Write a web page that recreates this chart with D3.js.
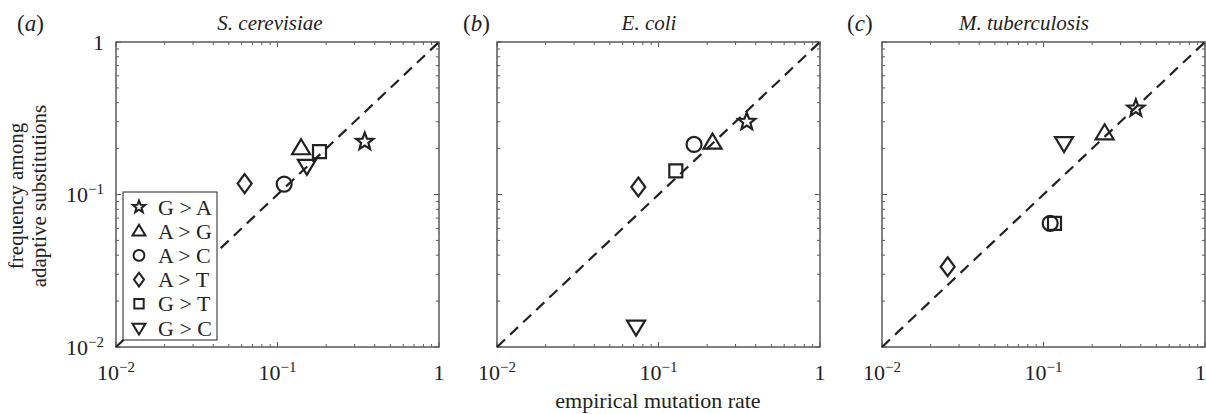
<!DOCTYPE html>
<html>
<head>
<meta charset="utf-8">
<script src="https://cdn.jsdelivr.net/npm/d3@7"></script>
<style>
  body { margin: 0; background: #fff; }
  svg text { font-family: "Liberation Serif", "Times New Roman", serif; fill: #222; }
</style>
</head>
<body>
<svg id="chart" width="1206" height="414"></svg>
<script>
// mutation types, in legend order
const mutations = ["G > A", "A > G", "A > C", "A > T", "G > T", "G > C"];
const shapes = ["star", "triUp", "circle", "diamond", "square", "triDown"];

const species = ["S. cerevisiae", "E. coli", "M. tuberculosis"];
const panelTags = ["a", "b", "c"];

// empirical mutation rate (x), per species, in mutation order
const rateCerevisiae = [0.347, 0.140, 0.110, 0.0626, 0.182, 0.152];
const rateColi = [0.352, 0.216, 0.166, 0.075, 0.128, 0.0726];
const rateTuberculosis = [0.373, 0.239, 0.110, 0.0255, 0.117, 0.134];

// frequency among adaptive substitutions (y)
const freqCerevisiae = [0.222, 0.201, 0.117, 0.118, 0.191, 0.154];
const freqColi = [0.300, 0.219, 0.213, 0.112, 0.143, 0.0136];
const freqTuberculosis = [0.367, 0.252, 0.0647, 0.0336, 0.0647, 0.217];

const rates = [rateCerevisiae, rateColi, rateTuberculosis];
const freqs = [freqCerevisiae, freqColi, freqTuberculosis];

const domain = [0.01, 1];
const majorTicks = [0.01, 0.1, 1];

const svg = d3.select("#chart");
const ink = "#222";
const axisColor = "#5a5a5a";

// layout
const panelLeft = [116, 497, 882];
const panelWidth = 323;
const plotTop = 42, plotBottom = 347;
const tagX = [17, 463, 847];
const titleX = [270, 649, 1024];
const fontSize = 22;

// marker path, centred at 0,0
function markerPath(type, k = 1)
{
  const p = d3.path();
  if (type == "circle")
  {
    p.arc(0, 0, 7.5 * k, 0, 2 * Math.PI);
  }
  else if (type == "square")
  {
    const h = 6.5 * k;
    p.rect(-h, -h, 2 * h, 2 * h);
  }
  else if (type == "diamond")
  {
    const w = 7 * k, h = 9.5 * k;
    p.moveTo(0, -h); p.lineTo(w, 0); p.lineTo(0, h); p.lineTo(-w, 0); p.closePath();
  }
  else if (type == "triUp")
  {
    p.moveTo(0, -9 * k); p.lineTo(9 * k, 6 * k); p.lineTo(-9 * k, 6 * k); p.closePath();
  }
  else if (type == "triDown")
  {
    p.moveTo(0, 9 * k); p.lineTo(9 * k, -6 * k); p.lineTo(-9 * k, -6 * k); p.closePath();
  }
  else if (type == "star")
  {
    const ro = 9 * k, ri = 3.8 * k;
    for (let i = 0; i < 10; i++)
    {
      const r = i % 2 == 0 ? ro : ri;
      const a = -Math.PI / 2 + i * Math.PI / 5;
      if (i == 0) p.moveTo(r * Math.cos(a), r * Math.sin(a));
      else p.lineTo(r * Math.cos(a), r * Math.sin(a));
    }
    p.closePath();
  }
  return p.toString();
}

// "10" with a superscript exponent, or plain "1"
function tickLabel(sel, v)
{
  if (v == 1) { sel.text("1"); return; }
  const e = Math.round(Math.log10(v));
  sel.append("tspan").text("10");
  sel.append("tspan").attr("dy", -8).attr("font-size", 15).text("\u2212" + Math.abs(e));
}

species.forEach((name, pi) =>
{
  const x = d3.scaleLog().domain(domain).range([panelLeft[pi], panelLeft[pi] + panelWidth]);
  const y = d3.scaleLog().domain(domain).range([plotBottom, plotTop]);
  const g = svg.append("g");

  // ticks on all four sides, pointing inward
  const allTicks = x.ticks();
  const tickG = g.append("g").attr("stroke", axisColor).attr("stroke-width", 1);
  allTicks.forEach(t =>
  {
    const major = majorTicks.includes(t);
    const len = major ? 5 : 3;
    tickG.append("line").attr("x1", x(t)).attr("x2", x(t)).attr("y1", plotBottom).attr("y2", plotBottom - len);
    tickG.append("line").attr("x1", x(t)).attr("x2", x(t)).attr("y1", plotTop).attr("y2", plotTop + len);
    tickG.append("line").attr("y1", y(t)).attr("y2", y(t)).attr("x1", x.range()[0]).attr("x2", x.range()[0] + len);
    tickG.append("line").attr("y1", y(t)).attr("y2", y(t)).attr("x1", x.range()[1]).attr("x2", x.range()[1] - len);
  });

  g.append("rect")
      .attr("x", x.range()[0]).attr("y", plotTop)
      .attr("width", panelWidth).attr("height", plotBottom - plotTop)
      .attr("fill", "none").attr("stroke", axisColor).attr("stroke-width", 1.5);

  // x tick labels
  majorTicks.forEach(t =>
  {
    const last = pi == species.length - 1 && t == 1;
    const lab = g.append("text")
        .attr("x", last ? 1206 : x(t)).attr("y", 380)
        .attr("text-anchor", last ? "end" : "middle").attr("font-size", fontSize);
    tickLabel(lab, t);
  });

  // y tick labels only on first panel
  if (pi == 0)
  {
    majorTicks.forEach(t =>
    {
      const lab = g.append("text")
          .attr("x", x.range()[0] - 12).attr("y", y(t) + 7.5)
          .attr("text-anchor", "end").attr("font-size", fontSize);
      tickLabel(lab, t);
    });
  }

  // y = x reference line
  g.append("line")
      .attr("x1", x(domain[0])).attr("y1", y(domain[0]))
      .attr("x2", x(domain[1])).attr("y2", y(domain[1]))
      .attr("stroke", ink).attr("stroke-width", 2.2)
      .attr("stroke-dasharray", "11,7");

  // data markers
  g.selectAll("path.mark").data(mutations).enter().append("path")
      .attr("class", "mark")
      .attr("transform", (m, i) => `translate(${x(rates[pi][i])},${y(freqs[pi][i])})`)
      .attr("d", (m, i) => markerPath(shapes[i]))
      .attr("fill", "none").attr("stroke", ink).attr("stroke-width", 2.2)
      .attr("stroke-linejoin", "miter");

  // title and panel tag
  g.append("text")
      .attr("x", titleX[pi]).attr("y", 30)
      .attr("text-anchor", "middle").attr("font-size", 21)
      .attr("font-style", "italic").text(name);
  const tag = g.append("text")
      .attr("x", tagX[pi]).attr("y", 31).attr("font-size", 23);
  tag.append("tspan").text("(");
  tag.append("tspan").attr("font-style", "italic").text(panelTags[pi]);
  tag.append("tspan").text(")");

  // legend on first panel
  if (pi == 0)
  {
    const lx = 123, ly = 192, lw = 94, lh = 148;
    const leg = g.append("g");
    leg.append("line")
        .attr("x1", x.range()[0]).attr("y1", plotBottom)
        .attr("x2", lx).attr("y2", ly + lh)
        .attr("stroke", ink).attr("stroke-width", 1);
    leg.append("rect")
        .attr("x", lx).attr("y", ly).attr("width", lw).attr("height", lh)
        .attr("fill", "#fff").attr("stroke", ink).attr("stroke-width", 1);
    const rowY = d3.scaleLinear().domain([0, mutations.length - 1]).range([ly + 15, ly + 136]);
    mutations.forEach((m, i) =>
    {
      leg.append("path")
          .attr("transform", `translate(${lx + 16},${rowY(i)})`)
          .attr("d", markerPath(shapes[i], 0.72))
          .attr("fill", "none").attr("stroke", ink).attr("stroke-width", 2);
      leg.append("text")
          .attr("x", lx + 35).attr("y", rowY(i) + 7.5)
          .attr("font-size", fontSize).text(m);
    });
  }
});

// shared axis labels
svg.append("text")
    .attr("x", 658).attr("y", 408)
    .attr("text-anchor", "middle").attr("font-size", fontSize)
    .text("empirical mutation rate");

const yl = svg.append("text")
    .attr("transform", "translate(23,196) rotate(-90)")
    .attr("text-anchor", "middle").attr("font-size", 21);
yl.append("tspan").attr("x", 0).attr("dy", 0).text("frequency among");
yl.append("tspan").attr("x", 0).attr("dy", 23).text("adaptive substitutions");
</script>
</body>
</html>
